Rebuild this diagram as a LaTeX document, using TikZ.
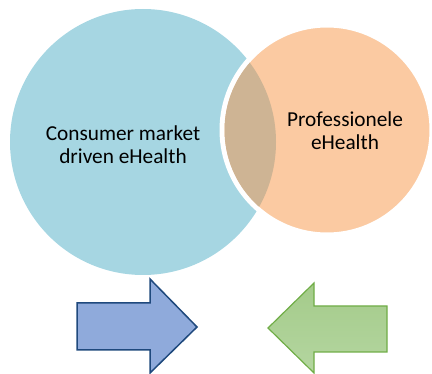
\documentclass[tikz,border=0pt]{standalone}
\usepackage{fontspec}
\setsansfont{Carlito}
\usetikzlibrary{positioning}
\definecolor{consumerblue}{RGB}{166,214,226}
\definecolor{profpeach}{RGB}{251,202,162}
\definecolor{overlapbrown}{RGB}{206,180,148}
\definecolor{arrowblue}{RGB}{143,170,219}
\definecolor{arrowblueline}{RGB}{31,73,125}
\definecolor{arrowgreen}{RGB}{164,203,138}
\definecolor{arrowgreenlight}{RGB}{180,214,160}
\definecolor{arrowgreenline}{RGB}{112,173,71}
\tikzstyle{every node}=[font=\sffamily\fontsize{21.3}{23}\selectfont, align=center]
\tikzstyle{bluearrow} = [draw=arrowblueline, fill=arrowblue, line width=1.5pt, line join=miter]
\tikzstyle{greenarrow} = [draw=arrowgreenline, top color=arrowgreen, bottom color=arrowgreenlight, line width=1.2pt, line join=miter]

\begin{document}
\begin{tikzpicture}[x=1pt,y=-1pt]
    \useasboundingbox (0,0) rectangle (432,374);
    \coordinate (consumerNode) at (143,142);
    \coordinate (profNode) at (327,130);

    % circles
    \fill[consumerblue] (consumerNode) circle (133pt);
    \draw[white, line width=5pt, fill=profpeach] (profNode) circle (105pt);
    \begin{scope}
        \clip (consumerNode) circle (133pt);
        \fill[overlapbrown] (profNode) circle (102.5pt);
    \end{scope}

    \node (consumerText) at (123,145) {Consumer market\\driven eHealth};
    \node (profText) at (345,131) {Professionele\\eHealth};

    % arrows
    \draw[bluearrow] (77,303) -- (150,303) -- (150,279) -- (197,327) -- (150,373) -- (150,350) -- (77,350) -- cycle;
    \draw[greenarrow] (387,306) -- (314,306) -- (314,283) -- (268,328) -- (314,373) -- (314,352) -- (387,352) -- cycle;
\end{tikzpicture}
\end{document}
